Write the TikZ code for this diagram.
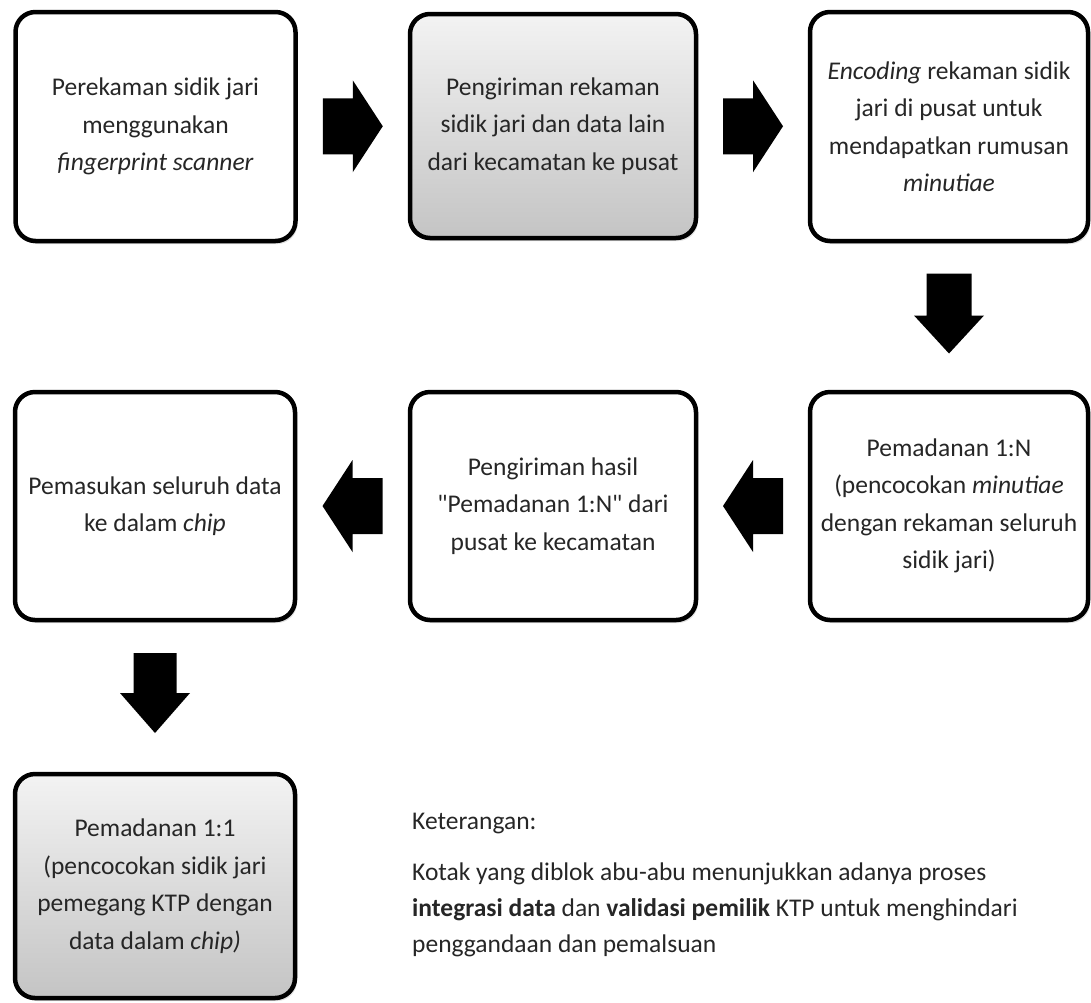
\documentclass[tikz,border=0pt]{standalone}
\usepackage{fontspec}
\setmainfont{Carlito}[Ligatures=TeXOff]
\usetikzlibrary{calc,shadows}
\definecolor{txt}{RGB}{38,38,38}
\definecolor{gtop}{RGB}{243,243,243}
\definecolor{gbot}{RGB}{196,196,196}
\begin{document}
\begin{tikzpicture}[x=1pt,y=-1pt,
  box/.style={draw=black, line width=4.5pt, rounded corners=20pt, fill=white,
    minimum width=280pt, minimum height=228pt, align=center, text=txt,
    font=\fontsize{25.5}{37.5}\selectfont, inner sep=0pt,
    drop shadow={shadow xshift=2pt, shadow yshift=-3pt, opacity=0.25}},
  graybox/.style={box, top color=gtop, bottom color=gbot},
  blk/.style={fill=black},
  legend/.style={align=left, text=txt, font=\fontsize{25.5}{36}\selectfont, inner sep=0pt, anchor=west}]
\useasboundingbox (0,0) rectangle (1091,1002);
% boxes
\node[box, minimum height=229pt] (b1) at (155.5,126.5) {Perekaman sidik jari\\ menggunakan\\ \textit{fingerprint scanner}};
\node[graybox, minimum width=286pt, minimum height=224pt] (b2) at (553,126) {Pengiriman rekaman\\ sidik jari dan data lain\\ dari kecamatan ke pusat};
\node[box, minimum width=278pt, minimum height=229pt] (b3) at (949,126.5) {\textit{Encoding} rekaman sidik\\ jari di pusat untuk\\ mendapatkan rumusan\\ \textit{minutiae}};
\node[box] (b4) at (155,506) {Pemasukan seluruh data\\ ke dalam \textit{chip}};
\node[box, minimum width=286pt] (b5) at (553,506) {Pengiriman hasil\\ "Pemadanan 1:N" dari\\ pusat ke kecamatan};
\node[box, minimum width=278pt] (b6) at (949,506) {Pemadanan 1:N\\ (pencocokan \textit{minutiae}\\ dengan rekaman seluruh\\ sidik jari)};
\node[graybox, minimum height=224pt] (b7) at (155,886) {Pemadanan 1:1\\ (pencocokan sidik jari\\ pemegang KTP dengan\\ data dalam \textit{chip)}};
% block arrows between boxes
\coordinate (m12) at ($(b1.east)!0.5!(b2.west)$);
\coordinate (m23) at ($(b2.east)!0.5!(b3.west)$);
\coordinate (m36) at ($(b3.south)!0.5!(b6.north)$);
\coordinate (m65) at ($(b6.west)!0.5!(b5.east)$);
\coordinate (m54) at ($(b5.west)!0.5!(b4.east)$);
\coordinate (m47) at ($(b4.south)!0.5!(b7.north)$);
% right arrows
\fill[blk] ($(m12)+(-30,-28)$) -- ++(30,0) -- ++(0,-18) -- ++(30,46) -- ++(-30,46) -- ++(0,-18) -- ++(-30,0) -- cycle;
\fill[blk] ($(m23)+(-30,-28)$) -- ++(30,0) -- ++(0,-18) -- ++(30,46) -- ++(-30,46) -- ++(0,-18) -- ++(-30,0) -- cycle;
% left arrows
\fill[blk] ($(m65)+(30,-28)$) -- ++(-30,0) -- ++(0,-18) -- ++(-30,46) -- ++(30,46) -- ++(0,-18) -- ++(30,0) -- cycle;
\fill[blk] ($(m54)+(30,-28)$) -- ++(-30,0) -- ++(0,-18) -- ++(-30,46) -- ++(30,46) -- ++(0,-18) -- ++(30,0) -- cycle;
% down arrows
\fill[blk] ($(m36)+(-22.5,-43)$) -- ++(45,0) -- ++(0,42) -- ++(12.5,0) -- ++(-35,38) -- ++(-35,-38) -- ++(12.5,0) -- cycle;
\fill[blk] ($(m47)+(-21.5,-44)$) -- ++(43,0) -- ++(0,40) -- ++(13.5,0) -- ++(-35,40) -- ++(-35,-40) -- ++(13.5,0) -- cycle;
% legend
\node[legend] (ket) at (412,823) {Keterangan:};
\node[legend] (desc) at (412,910) {Kotak yang diblok abu-abu menunjukkan adanya proses\\ \textbf{integrasi data} dan \textbf{validasi pemilik} KTP untuk menghindari\\ penggandaan dan pemalsuan};
\end{tikzpicture}
\end{document}
